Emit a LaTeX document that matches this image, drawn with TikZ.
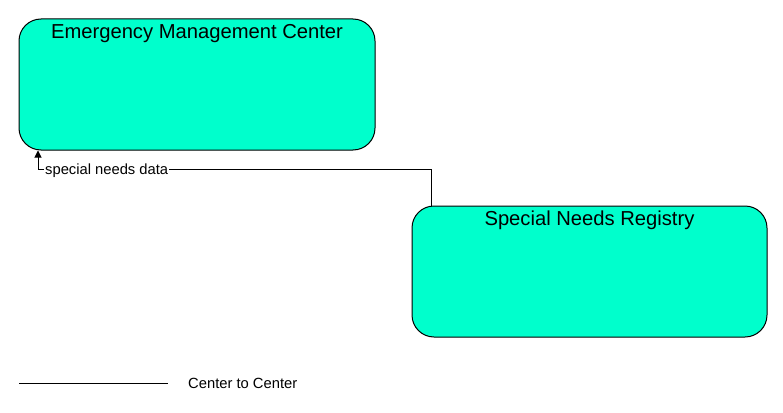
\documentclass[tikz,border=0pt]{standalone}
\usepackage{fontspec}
\setmainfont{Liberation Sans}
\usetikzlibrary{arrows.meta}
\definecolor{boxfill}{RGB}{0,255,204}
\begin{document}
\begin{tikzpicture}[x=1pt,y=-1pt,
  entity/.style={draw=black,line width=1pt,fill=boxfill,rounded corners=22pt,inner sep=0pt},
  title/.style={anchor=base,font=\fontsize{20.2}{24}\selectfont,inner sep=0pt},
  small/.style={font=\fontsize{14.75}{17}\selectfont,inner sep=1pt},
  flow/.style={draw=black,line width=1pt}]
\useasboundingbox (0,0) rectangle (783,412);
\node[entity,minimum width=356pt,minimum height=131pt] (emc) at (197,84.5) {};
\node[title] (emct) at (197,38) {Emergency Management Center};
\node[entity,minimum width=355pt,minimum height=131pt] (snr) at (589.5,271.5) {};
\node[title] (snrt) at (589.5,225) {Special Needs Registry};
\coordinate (s) at (431,206);
\coordinate (t) at (38,150.5);
\coordinate (b1) at (431,169);
\coordinate (b2) at (38,169);
\draw[flow,-{Triangle[width=7pt,length=7pt]}] (s) -- (b1) -- (b2) -- (t);
\node[small,fill=white,anchor=base west] (lbl) at (44,174.5) {special needs data};
\coordinate (l1) at (19,383);
\coordinate (l2) at (168,383);
\draw[flow] (l1) -- (l2);
\node[small,anchor=base west,inner sep=0pt] (legt) at (188,388.5) {Center to Center};
\end{tikzpicture}
\end{document}
